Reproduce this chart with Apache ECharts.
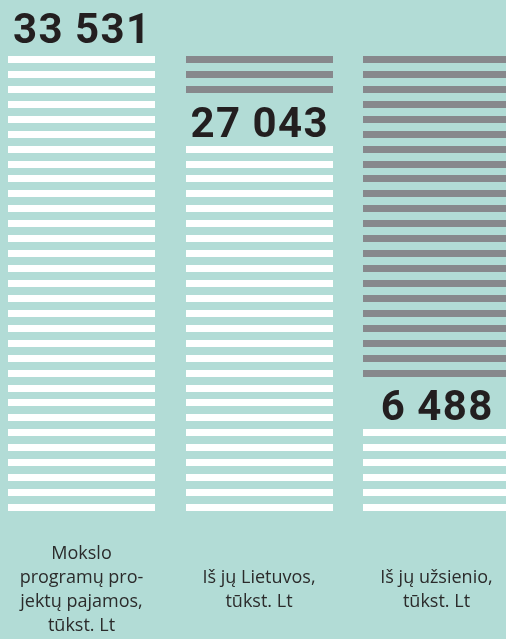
<!DOCTYPE html>
<html>
<head>
<meta charset="utf-8">
<script src="https://cdn.jsdelivr.net/npm/echarts@6/dist/echarts.min.js"></script>
<style>
html,body{margin:0;padding:0;background:#b2dcd6;}
#chart{width:506px;height:639px;}
</style>
</head>
<body>
<div id="chart"></div>
<script>
// ---- data ----
const categories = [
  'Mokslo\nprogramų pro-\njektų pajamos,\ntūkst. Lt',
  'Iš jų Lietuvos,\ntūkst. Lt',
  'Iš jų užsienio,\ntūkst. Lt'
];
const values = [33531, 27043, 6488];
const valueLabels = ['33 531', '27 043', '6 488'];
const totalValue = 33531;   // full column height
const stripeCount = 31;     // stripes in the full column
const labelCells = 3;       // stripe slots reserved for the number label

// ---- styling ----
const BG = '#b2dcd6';
const WHITE = '#ffffff';
const GREY = '#87888c';
const TEXT = '#231f20';
const STRIPE_W = 147;
const STRIPE_H = 7;
const NUM_FONT = 'Roboto, "DejaVu Sans Condensed", sans-serif';

const chart = echarts.init(document.getElementById('chart'), null, {renderer: 'canvas'});

function richDigits(s) {
  return s.split('').map(ch => ch === ' ' ? '{s| }' : '{d|' + ch + '}').join('');
}

const unit = totalValue / stripeCount;

const option = {
  backgroundColor: BG,
  animation: false,
  grid: {left: -7.25, width: 532.5, top: 56, bottom: 120.1, containLabel: false, outerBoundsMode: 'none'},
  xAxis: {
    type: 'category',
    data: categories,
    axisLine: {show: false},
    axisTick: {show: false},
    splitLine: {show: false},
    axisLabel: {
      interval: 0,
      margin: 71,
      verticalAlign: 'middle',
      lineHeight: 24,
      fontSize: 18,
      fontFamily: '"Open Sans", Roboto, sans-serif',
      color: '#2b2b2b'
    }
  },
  yAxis: {type: 'value', min: 0, max: totalValue, show: false},
  series: [{
    type: 'custom',
    clip: false,
    data: values.map((v, i) => [i, v]),
    renderItem: function (params, api) {
      const i = api.value(0);
      const v = api.value(1);
      const whiteN = Math.round(v / unit);
      const cx = api.coord([i, 0])[0];
      const children = [];
      for (let k = 0; k < stripeCount; k++) {
        let color = null;
        if (k < whiteN) color = WHITE;
        else if (k >= whiteN + labelCells) color = GREY;
        if (!color) continue;
        const top = Math.round(api.coord([i, (k + 1) * unit])[1]);
        children.push({
          type: 'rect',
          shape: {x: Math.round(cx - STRIPE_W / 2), y: top, width: STRIPE_W, height: STRIPE_H},
          style: {fill: color}
        });
      }
      let ly = api.coord([i, (whiteN + labelCells / 2) * unit])[1] + 3;
      if (whiteN >= stripeCount) ly -= 4.5;
      children.push({
        type: 'text',
        style: {
          x: cx,
          y: ly,
          text: richDigits(valueLabels[params.dataIndex]),
          align: 'center',
          verticalAlign: 'middle',
          fill: TEXT,
          rich: {
            d: {width: 25.5, align: 'center', fontSize: 42, fontWeight: 'bold', fontFamily: NUM_FONT, fill: TEXT},
            s: {width: 11, fontSize: 42, fontWeight: 'bold', fontFamily: NUM_FONT, fill: TEXT}
          }
        }
      });
      return {type: 'group', children: children};
    }
  }]
};
chart.setOption(option);
</script>
</body>
</html>
